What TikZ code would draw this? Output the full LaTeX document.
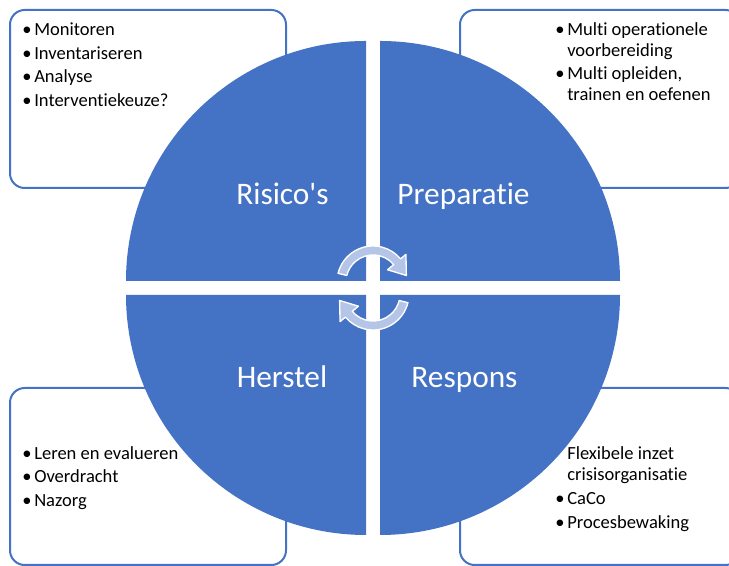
\documentclass[tikz,border=0pt]{standalone}
\usepackage{fontspec}
\setmainfont{Carlito}[Ligatures=NoCommon]
\definecolor{cycleblue}{RGB}{68,114,196}
\definecolor{arrowblue}{RGB}{180,197,231}
\newcommand{\bul}{\makebox[9pt][l]{\textbullet}}
\newcommand{\ind}{\hspace*{9pt}}
\begin{document}
\begin{tikzpicture}[x=0.75pt,y=0.75pt,
    quad/.style={fill=cycleblue},
    infobox/.style={draw=cycleblue,line width=1.5pt,fill=white,rounded corners=11pt},
    phase/.style={text=white,anchor=base,inner sep=0pt,font=\fontsize{23.5}{28}\selectfont},
    item/.style={anchor=base west,inner sep=0pt,font=\fontsize{13.9}{16}\selectfont},
    turn/.style={fill=arrowblue,draw=white,line width=1pt,line join=round}]
    \useasboundingbox (0,0) rectangle (729,566);

    % tekstvakken achter de cirkel
    \draw[infobox] (10,378) rectangle (286,556);
    \draw[infobox] (460,378) rectangle (740,556);
    \draw[infobox] (10,1) rectangle (286,178);
    \draw[infobox] (460,1) rectangle (740,178);

    % vier kwartcirkels
    \fill[quad] (366,285) -- ++(-240,0) arc[start angle=180,end angle=90,radius=240] -- cycle;
    \fill[quad] (380,285) -- ++(0,240) arc[start angle=90,end angle=0,radius=240] -- cycle;
    \fill[quad] (366,271) -- ++(-240,0) arc[start angle=180,end angle=270,radius=240] -- cycle;
    \fill[quad] (380,271) -- ++(240,0) arc[start angle=0,end angle=-90,radius=240] -- cycle;

    \node[phase] (risico) at (282.5,361) {Risico\textquotesingle s};
    \node[phase] (prep) at (463.5,361) {Preparatie};
    \node[phase] (herstel) at (282,178) {Herstel};
    \node[phase] (respons) at (464.5,178) {Respons};

    % kringloop-pijlen in het midden
    \foreach \cx/\cy/\rot in {373/284/0,373/272/180}{
        \begin{scope}[shift={(\cx,\cy)},rotate=\rot]
            \filldraw[turn] (166:36) arc[start angle=166,end angle=40,radius=36]
                -- (40:43) -- (11:34) -- (40:19) -- (40:27)
                arc[start angle=40,end angle=166,radius=27] -- cycle;
        \end{scope}
    }

    % opsommingen
    \foreach \y/\txt [count=\i] in {530/{\bul Monitoren},506.5/{\bul Inventariseren},
        483/{\bul Analyse},459.5/{\bul Interventiekeuze?}}
        \node[item] (risk\i) at (22,\y) {\txt};
    \foreach \y/\txt [count=\i] in {530/{\bul Multi operationele},509/{\ind voorbereiding},
        486/{\bul Multi opleiden,},465/{\ind trainen en oefenen}}
        \node[item] (prep\i) at (555,\y) {\txt};
    \foreach \y/\txt [count=\i] in {106/{\bul Leren en evalueren},83/{\bul Overdracht},
        59/{\bul Nazorg}}
        \node[item] (herst\i) at (22,\y) {\txt};
    \foreach \y/\txt [count=\i] in {106/{\ind Flexibele inzet},85/{\ind crisisorganisatie},
        61/{\bul CaCo},37/{\bul Procesbewaking}}
        \node[item] (resp\i) at (555,\y) {\txt};
\end{tikzpicture}
\end{document}
